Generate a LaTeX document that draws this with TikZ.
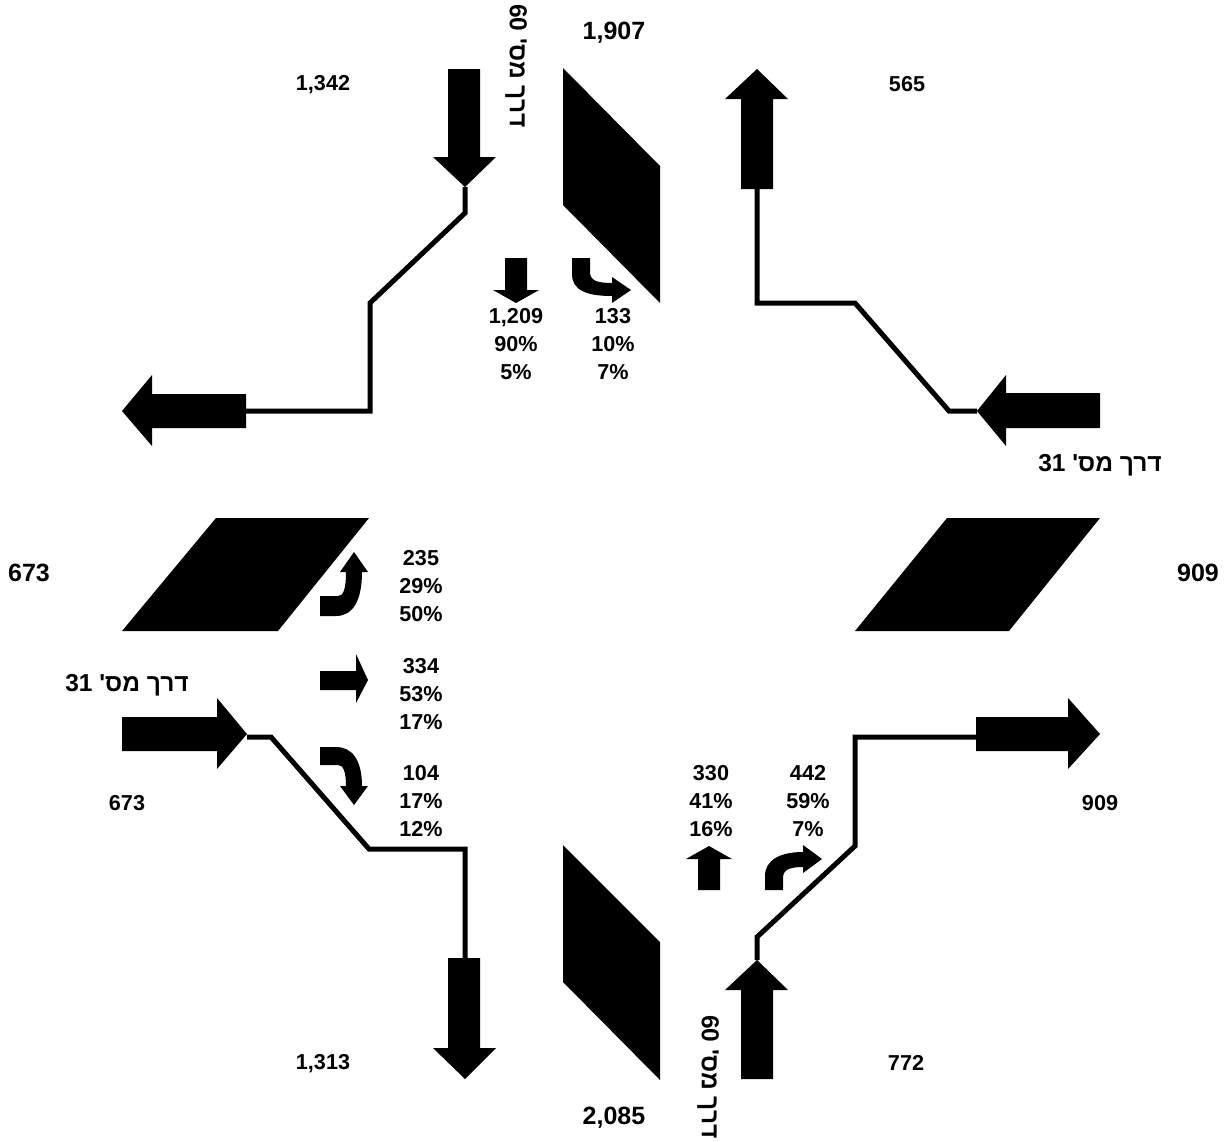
\documentclass[tikz,border=0pt]{standalone}
\usepackage{fontspec}
\setmainfont{Liberation Sans}
\newfontfamily\hebfont[Script=Hebrew]{Liberation Sans}
\TeXXeTstate=1
\tikzset{
  solid shape/.style={fill=black,draw=none},
  route/.style={draw=black,line width=5pt,line join=miter},
  lab/.style={inner sep=0pt,outer sep=0pt,font=\fontsize{21.6}{28.3}\selectfont\bfseries,align=center,text=black},
  bigl/.style={lab,font=\fontsize{25}{28}\selectfont\bfseries},
  heb/.style={inner sep=0pt,outer sep=0pt,font=\fontsize{24.5}{26}\selectfont\hebfont\bfseries,text=black},
}
\newcommand{\roadname}[1]{\beginR דרך מס' \beginL #1\endL\endR}
\begin{document}
\begin{tikzpicture}[x=1pt,y=-1pt]
\useasboundingbox (0,0) rectangle (1231,1141);
% crossing blocks
\fill[solid shape] (563,68) -- (660,166) -- (660,303) -- (563,205) -- cycle;
\fill[solid shape] (563,845) -- (660,942) -- (660,1080) -- (563,982) -- cycle;
\fill[solid shape] (216,518) -- (369,518) -- (278,631) -- (122,631) -- cycle;
\fill[solid shape] (947,518) -- (1100,518) -- (1009,631) -- (855,631) -- cycle;
% named anchors of the routes
\coordinate (tlA) at (465,187);
\coordinate (tlB) at (246,411);
\coordinate (trA) at (757,189);
\coordinate (trB) at (977,411);
\coordinate (blA) at (247,737);
\coordinate (blB) at (465,958);
\coordinate (brA) at (757,960);
\coordinate (brB) at (976,737);
% routes
\draw[route] (tlA) -- (465,213) -- (370,303) -- (370,411) -- (tlB);
\draw[route] (trA) -- (757,303) -- (855,303) -- (949,411) -- (trB);
\draw[route] (blA) -- (271,737) -- (369,849) -- (465,849) -- (blB);
\draw[route] (brA) -- (757,937) -- (855,846) -- (855,737) -- (brB);
% large arrows
\fill[solid shape] (448,69) -- (480,69) -- (480,157) -- (496,157) -- (465,187) -- (433,157) -- (448,157) -- cycle;
\fill[solid shape] (246,394) -- (246,428) -- (152,428) -- (152,446) -- (122,411) -- (152,375) -- (152,394) -- cycle;
\fill[solid shape] (741,189) -- (773,189) -- (773,99) -- (788,99) -- (757,69) -- (725,99) -- (741,99) -- cycle;
\fill[solid shape] (1100,393) -- (1100,428) -- (1006,428) -- (1006,446) -- (977,411) -- (1006,375) -- (1006,393) -- cycle;
\fill[solid shape] (122,717) -- (122,751) -- (217,751) -- (217,769) -- (247,734) -- (217,698) -- (217,717) -- cycle;
\fill[solid shape] (448,958) -- (480,958) -- (480,1048) -- (496,1048) -- (465,1079) -- (433,1048) -- (448,1048) -- cycle;
\fill[solid shape] (741,1079) -- (773,1079) -- (773,990) -- (788,990) -- (757,960) -- (725,990) -- (741,990) -- cycle;
\fill[solid shape] (976,717) -- (976,751) -- (1068,751) -- (1068,769) -- (1100,734) -- (1068,698) -- (1068,717) -- cycle;
% small straight arrows
\fill[solid shape] (505,258) -- (527,258) -- (527,290) -- (539,290) -- (516,303) -- (493,290) -- (505,290) -- cycle;
\fill[solid shape] (320,671) -- (356,671) -- (356,654) -- (368,680) -- (356,703) -- (356,690) -- (320,690) -- cycle;
\fill[solid shape] (698,890) -- (720,890) -- (720,859) -- (732,859) -- (709,846) -- (686,859) -- (698,859) -- cycle;
% small turning arrows
\fill[solid shape] (572,258) -- (590,258) -- (590,272) .. controls (590,280) and (596,283) .. (612,283) -- (612,277) -- (631,290) -- (612,303) -- (612,296) .. controls (586,296) and (572,290) .. (572,274) -- cycle;
\fill[solid shape] (320,596) -- (338,596) .. controls (343,596) and (346,590) .. (346,572) -- (340,572) -- (354,552) -- (368,572) -- (362,572) .. controls (362,602) and (352,616) .. (336,616) -- (320,616) -- cycle;
\fill[solid shape] (320,765) -- (338,765) .. controls (343,765) and (346,771) .. (346,786) -- (340,786) -- (354,805) -- (368,786) -- (362,786) .. controls (362,760) and (352,747) .. (336,747) -- (320,747) -- cycle;
\fill[solid shape] (765,890) -- (783,890) -- (783,878) .. controls (783,870) and (789,867) .. (803,867) -- (803,873) -- (822,859) -- (803,845) -- (803,852) .. controls (780,852) and (765,860) .. (765,876) -- cycle;
% totals
\node[lab] (n1342) at (323,85) {1,342};
\node[bigl] (n1907) at (614,33) {1,907};
\node[lab] (n565) at (907,84) {565};
\node[bigl] (n673a) at (29,573) {673};
\node[bigl] (n909a) at (1198,573) {909};
\node[lab] (n673b) at (127,803) {673};
\node[lab] (n909b) at (1100,803) {909};
\node[lab] (n1313) at (323,1064) {1,313};
\node[lab] (n772) at (906,1063) {772};
\node[bigl] (n2085) at (614,1118) {2,085};
% movement labels
\node[lab] (m1) at (516,344) {1,209\\90\%\\5\%};
\node[lab] (m2) at (613,344) {133\\10\%\\7\%};
\node[lab] (m3) at (421,586) {235\\29\%\\50\%};
\node[lab] (m4) at (421,694) {334\\53\%\\17\%};
\node[lab] (m5) at (421,801) {104\\17\%\\12\%};
\node[lab] (m6) at (711,801) {330\\41\%\\16\%};
\node[lab] (m7) at (808,801) {442\\59\%\\7\%};
% road names
\node[heb] (r1) at (127,685) {\roadname{31}};
\node[heb] (r2) at (1100,465) {\roadname{31}};
\node[heb,rotate=-90] (r3) at (516,66) {\roadname{60}};
\node[heb,rotate=-90] (r4) at (708,1077) {\roadname{60}};
\end{tikzpicture}
\end{document}
